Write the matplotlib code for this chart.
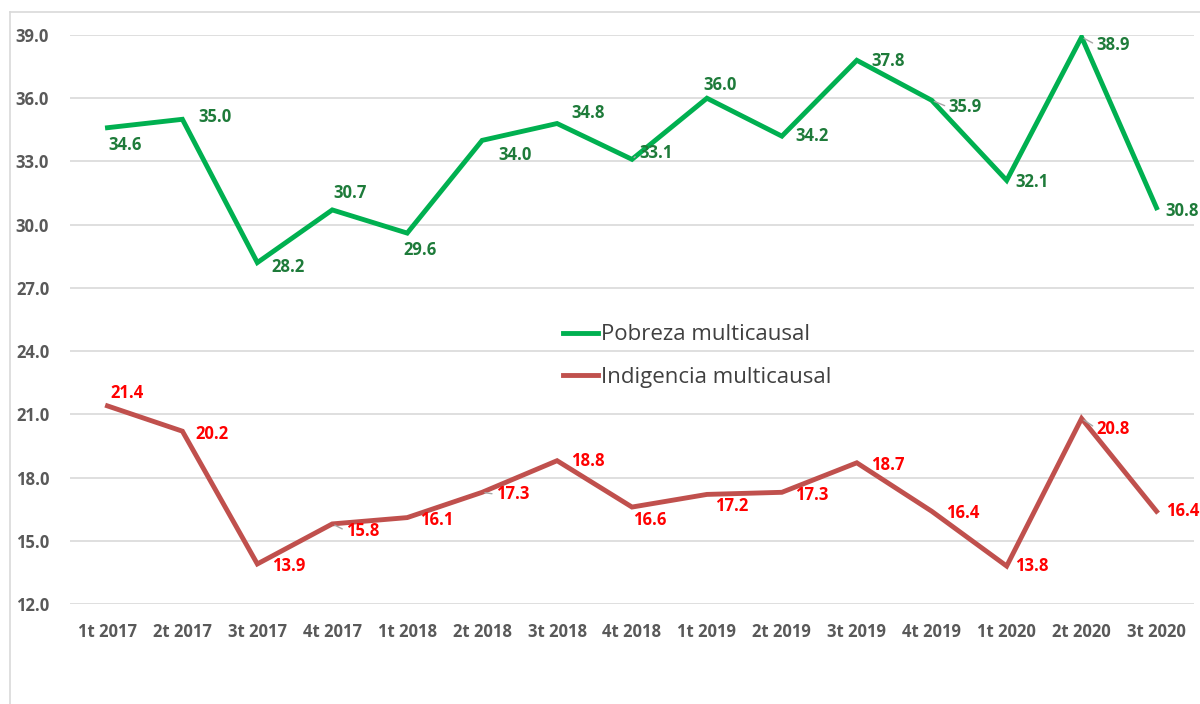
import numpy as np
import matplotlib.pyplot as plt
from matplotlib.lines import Line2D

plt.rcParams['font.family'] = ['Open Sans', 'DejaVu Sans']

quarters = ['1t 2017', '2t 2017', '3t 2017', '4t 2017', '1t 2018', '2t 2018', '3t 2018', '4t 2018',
            '1t 2019', '2t 2019', '3t 2019', '4t 2019', '1t 2020', '2t 2020', '3t 2020']
pobreza = [34.6, 35.0, 28.2, 30.7, 29.6, 34.0, 34.8, 33.1, 36.0, 34.2, 37.8, 35.9, 32.1, 38.9, 30.8]
indigencia = [21.4, 20.2, 13.9, 15.8, 16.1, 17.3, 18.8, 16.6, 17.2, 17.3, 18.7, 16.4, 13.8, 20.8, 16.4]

# label offsets in pixels (x right, y up), and which ones get a leader line
pob_off = [(18, -17), (33, 2), (31, -4), (18, 17), (13, -17), (33, -15), (31, 11), (25, 6),
           (13, 13), (30, 0), (31, -1), (35, -7), (25, -2), (33, -8), (26, -3)]
pob_lead = [7, 11, 13]
ind_off = [(20, 13), (30, -3), (31, -2), (32, -7), (30, -2), (32, -2), (31, 0), (18, -13),
           (25, -12), (30, -3), (31, -2), (31, -2), (25, 0), (33, -10), (26, 0)]
ind_lead = [3, 5, 13]

green = '#00b050'
green_txt = '#1e7b3a'
red = '#c0504d'
red_txt = '#ff0000'
grey = '#595959'

fig = plt.figure(figsize=(12, 7.04), dpi=100)
ax = fig.add_axes([70/1200, 100/704, 1124/1200, 569/704])

x = np.arange(len(quarters))
ax.plot(x, pobreza, color=green, lw=3.5, label='Pobreza multicausal', solid_joinstyle='miter')
ax.plot(x, indigencia, color=red, lw=3.5, label='Indigencia multicausal', solid_joinstyle='miter')


def put_labels(vals, offs, leads, color):
    for i, v in enumerate(vals):
        dx, dy = offs[i]
        if i in leads:
            ax.annotate(f'{v:.1f}', (i, v), xytext=(dx - 18, dy), textcoords='offset pixels',
                        ha='left', va='center', color=color, fontsize=12, fontweight='bold',
                        arrowprops=dict(arrowstyle='-', color='#a6a6a6', lw=1, shrinkA=1, shrinkB=2,
                                        relpos=(0, 0.5)))
        else:
            ax.annotate(f'{v:.1f}', (i, v), xytext=(dx, dy), textcoords='offset pixels',
                        ha='center', va='center', color=color, fontsize=12, fontweight='bold',
                        annotation_clip=False)


put_labels(pobreza, pob_off, pob_lead, green_txt)
put_labels(indigencia, ind_off, ind_lead, red_txt)

ax.set_xlim(-0.5, 14.5)
ax.set_ylim(12, 39)
ax.set_yticks(np.arange(12, 39.1, 3))
ax.set_yticklabels([f'{t:.1f}' for t in np.arange(12, 39.1, 3)])
ax.set_xticks(x)
ax.set_xticklabels(quarters)
ax.tick_params(axis='y', length=0, pad=15, labelsize=12, labelcolor=grey)
ax.tick_params(axis='x', length=0, pad=14, labelsize=12, labelcolor=grey)
for lab in ax.get_xticklabels() + ax.get_yticklabels():
    lab.set_fontweight('bold')
ax.grid(axis='y', color='#d9d9d9', lw=1.2)
ax.set_axisbelow(True)
for s in ax.spines.values():
    s.set_visible(False)

leg = ax.legend(loc='center', bbox_to_anchor=(697/1200, 1 - 356/704), bbox_transform=fig.transFigure,
                frameon=False, fontsize=16, handlelength=1.6, handletextpad=0.1, labelspacing=0.95,
                labelcolor='#404040')

# outer chart border (top and left visible)
fig.add_artist(Line2D([10/1200, 10/1200], [0, 1 - 12/704], color='#d9d9d9', lw=1.2))
fig.add_artist(Line2D([10/1200, 1], [1 - 12/704, 1 - 12/704], color='#d9d9d9', lw=1.2))

fig.savefig('out.png', dpi=100)
